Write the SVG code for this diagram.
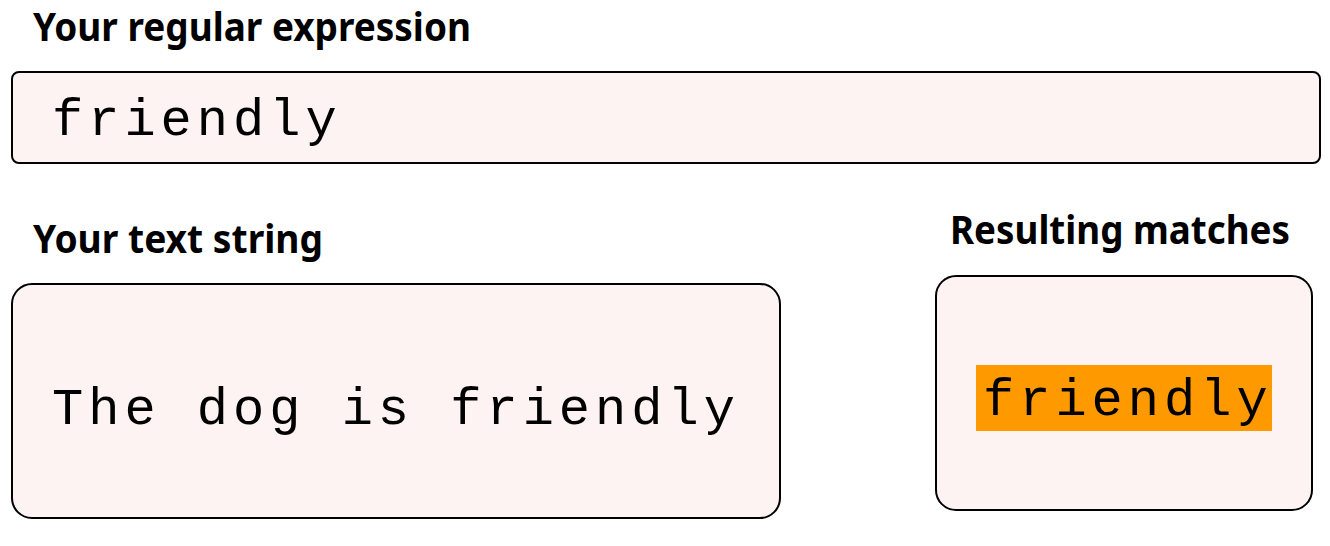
<svg xmlns="http://www.w3.org/2000/svg" width="1330" height="546" viewBox="0 0 1330 546">
<style>
.title{font-family:"Noto Sans","Open Sans",sans-serif;font-weight:bold;font-size:39px;fill:#000}
.box{fill:#fdf3f2;stroke:#000;stroke-width:2}
.mono{font-family:"Liberation Mono","Courier New",monospace;font-size:52px;fill:#000;letter-spacing:5px}
</style>
<rect width="1330" height="546" fill="#fff"/>
<g id="regex">
<text class="title" x="33" y="41" textLength="438" lengthAdjust="spacingAndGlyphs">Your regular expression</text>
<rect class="box" x="12" y="72" width="1308" height="91" rx="7"/>
<text class="mono" x="52" y="135">friendly</text>
</g>
<g id="textstring">
<text class="title" x="33" y="253" textLength="290" lengthAdjust="spacingAndGlyphs">Your text string</text>
<rect class="box" x="12" y="284" width="768" height="234" rx="20"/>
<text class="mono" x="52" y="424">The dog is friendly</text>
</g>
<g id="matches">
<text class="title" x="950" y="244" textLength="340" lengthAdjust="spacingAndGlyphs">Resulting matches</text>
<rect class="box" x="936" y="276" width="376" height="234" rx="20"/>
<rect x="976" y="365" width="296" height="66" fill="#ff9900"/>
<text class="mono" x="983" y="415">friendly</text>
</g>
<g id="connectors"/>
</svg>
